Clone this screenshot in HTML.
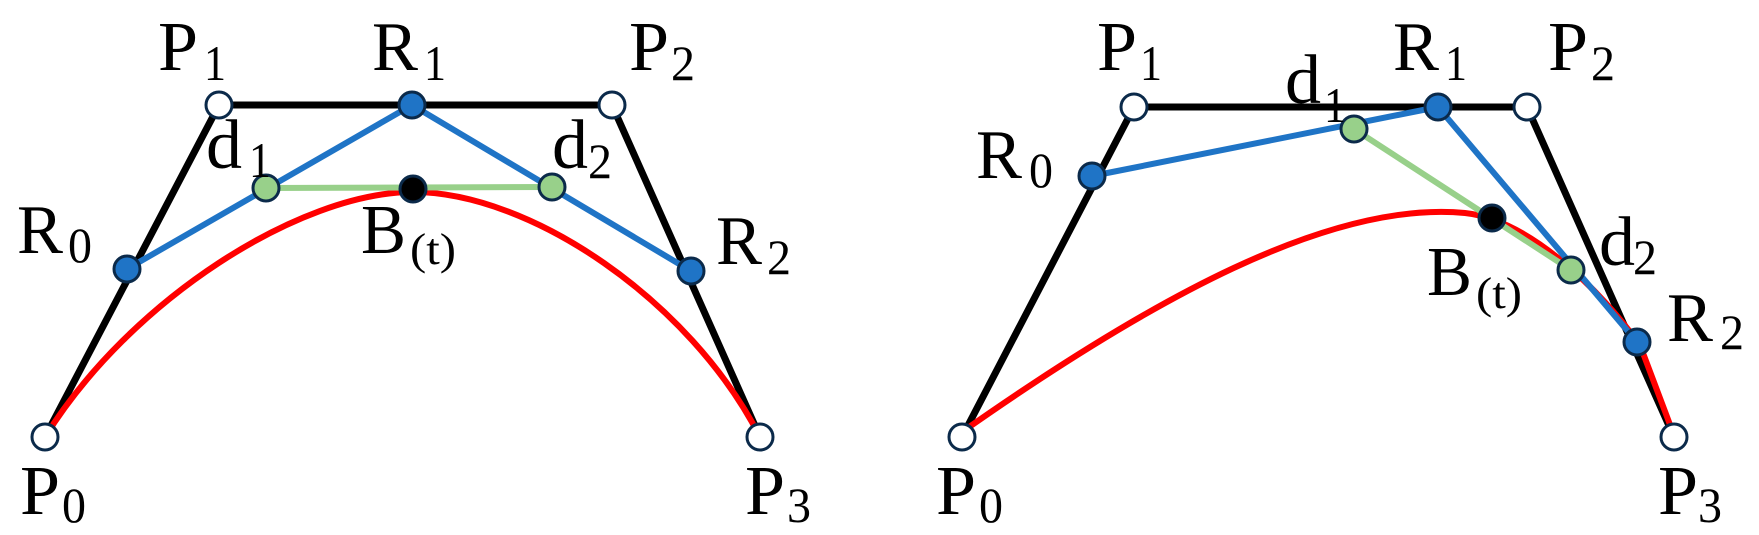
<!DOCTYPE html>
<html><head><meta charset="utf-8"><style>
html,body{margin:0;padding:0;background:#fff;}
svg{display:block;}
text{font-family:"Liberation Serif","Times New Roman",serif;fill:#000;}
.m{font-size:70px;}
.s{font-size:50px;}
.t{font-size:44px;}
</style></head><body>
<svg width="1759" height="535" viewBox="0 0 1759 535" xmlns="http://www.w3.org/2000/svg">
<g fill="none" stroke-linecap="round" stroke-linejoin="round">
<polyline points="45,437 219,105 612,105 760,437" stroke="#000" stroke-width="7"/>
<path d="M45,437 C130,300 300,192 413,192 C530,192 690,300 760,437" stroke="#ff0000" stroke-width="6"/>
<polyline points="127,269 412,105 691,271" stroke="#1f74c6" stroke-width="6"/>
<line x1="266" y1="188" x2="552" y2="187" stroke="#98d08a" stroke-width="6"/>
<polyline points="962,437 1134,107 1527,107 1674,437" stroke="#000" stroke-width="7"/>
<path d="M962,432 C1150,300 1330,200 1465,213 C1530,220 1600,290 1640,345 L1672,430" stroke="#ff0000" stroke-width="6"/>
<polyline points="1092,176 1438,107 1637,342" stroke="#1f74c6" stroke-width="6"/>
<line x1="1354" y1="129" x2="1571" y2="270" stroke="#98d08a" stroke-width="6"/>
</g>
<g stroke="#0b2a4a" stroke-width="3">
<circle cx="45" cy="437" r="13" fill="#fff"/>
<circle cx="219" cy="105" r="13" fill="#fff"/>
<circle cx="612" cy="105" r="13" fill="#fff"/>
<circle cx="760" cy="437" r="13" fill="#fff"/>
<circle cx="412" cy="105" r="13" fill="#1f74c6"/>
<circle cx="127" cy="269" r="13" fill="#1f74c6"/>
<circle cx="691" cy="271" r="13" fill="#1f74c6"/>
<circle cx="266" cy="188" r="13" fill="#98d08a"/>
<circle cx="552" cy="187" r="13" fill="#98d08a"/>
<circle cx="413" cy="189" r="13" fill="#000"/>
<circle cx="962" cy="437" r="13" fill="#fff"/>
<circle cx="1134" cy="107" r="13" fill="#fff"/>
<circle cx="1527" cy="107" r="13" fill="#fff"/>
<circle cx="1674" cy="437" r="13" fill="#fff"/>
<circle cx="1438" cy="107" r="13" fill="#1f74c6"/>
<circle cx="1092" cy="176" r="13" fill="#1f74c6"/>
<circle cx="1637" cy="342" r="13" fill="#1f74c6"/>
<circle cx="1354" cy="129" r="13" fill="#98d08a"/>
<circle cx="1571" cy="270" r="13" fill="#98d08a"/>
<circle cx="1492" cy="218" r="13" fill="#000"/>
</g>
<text class="m" x="158" y="70" textLength="40" lengthAdjust="spacingAndGlyphs">P</text><text class="s" x="204" y="80" textLength="22" lengthAdjust="spacingAndGlyphs">1</text>
<text class="m" x="372" y="70" textLength="46" lengthAdjust="spacingAndGlyphs">R</text><text class="s" x="424" y="80" textLength="22" lengthAdjust="spacingAndGlyphs">1</text>
<text class="m" x="629" y="70" textLength="40" lengthAdjust="spacingAndGlyphs">P</text><text class="s" x="671" y="80" textLength="24" lengthAdjust="spacingAndGlyphs">2</text>
<text class="m" x="206" y="168" textLength="36" lengthAdjust="spacingAndGlyphs">d</text><text class="s" x="249" y="177" textLength="22" lengthAdjust="spacingAndGlyphs">1</text>
<text class="m" x="552" y="168" textLength="36" lengthAdjust="spacingAndGlyphs">d</text><text class="s" x="588" y="178" textLength="24" lengthAdjust="spacingAndGlyphs">2</text>
<text class="m" x="17" y="253" textLength="46" lengthAdjust="spacingAndGlyphs">R</text><text class="s" x="68" y="262" textLength="24" lengthAdjust="spacingAndGlyphs">0</text>
<text class="m" x="361" y="253" textLength="45" lengthAdjust="spacingAndGlyphs">B</text><text class="t" x="410" y="264" textLength="46" lengthAdjust="spacingAndGlyphs">(t)</text>
<text class="m" x="716" y="264" textLength="46" lengthAdjust="spacingAndGlyphs">R</text><text class="s" x="767" y="274" textLength="24" lengthAdjust="spacingAndGlyphs">2</text>
<text class="m" x="20" y="514" textLength="40" lengthAdjust="spacingAndGlyphs">P</text><text class="s" x="62" y="522" textLength="24" lengthAdjust="spacingAndGlyphs">0</text>
<text class="m" x="745" y="514" textLength="40" lengthAdjust="spacingAndGlyphs">P</text><text class="s" x="787" y="522" textLength="24" lengthAdjust="spacingAndGlyphs">3</text>
<text class="m" x="1097" y="70" textLength="40" lengthAdjust="spacingAndGlyphs">P</text><text class="s" x="1140" y="80" textLength="22" lengthAdjust="spacingAndGlyphs">1</text>
<text class="m" x="1393" y="70" textLength="46" lengthAdjust="spacingAndGlyphs">R</text><text class="s" x="1445" y="80" textLength="22" lengthAdjust="spacingAndGlyphs">1</text>
<text class="m" x="1548" y="70" textLength="40" lengthAdjust="spacingAndGlyphs">P</text><text class="s" x="1591" y="80" textLength="24" lengthAdjust="spacingAndGlyphs">2</text>
<text class="m" x="1285" y="103" textLength="36" lengthAdjust="spacingAndGlyphs">d</text><text class="s" x="1324" y="122" textLength="22" lengthAdjust="spacingAndGlyphs">1</text>
<text class="m" x="976" y="178" textLength="46" lengthAdjust="spacingAndGlyphs">R</text><text class="s" x="1029" y="187" textLength="24" lengthAdjust="spacingAndGlyphs">0</text>
<text class="m" x="1427" y="295" textLength="45" lengthAdjust="spacingAndGlyphs">B</text><text class="t" x="1476" y="308" textLength="46" lengthAdjust="spacingAndGlyphs">(t)</text>
<text class="m" x="1599" y="265" textLength="36" lengthAdjust="spacingAndGlyphs">d</text><text class="s" x="1633" y="274" textLength="24" lengthAdjust="spacingAndGlyphs">2</text>
<text class="m" x="1667" y="341" textLength="46" lengthAdjust="spacingAndGlyphs">R</text><text class="s" x="1720" y="349" textLength="24" lengthAdjust="spacingAndGlyphs">2</text>
<text class="m" x="936" y="514" textLength="40" lengthAdjust="spacingAndGlyphs">P</text><text class="s" x="979" y="522" textLength="24" lengthAdjust="spacingAndGlyphs">0</text>
<text class="m" x="1658" y="514" textLength="40" lengthAdjust="spacingAndGlyphs">P</text><text class="s" x="1698" y="522" textLength="24" lengthAdjust="spacingAndGlyphs">3</text>
</svg>
</body></html>
